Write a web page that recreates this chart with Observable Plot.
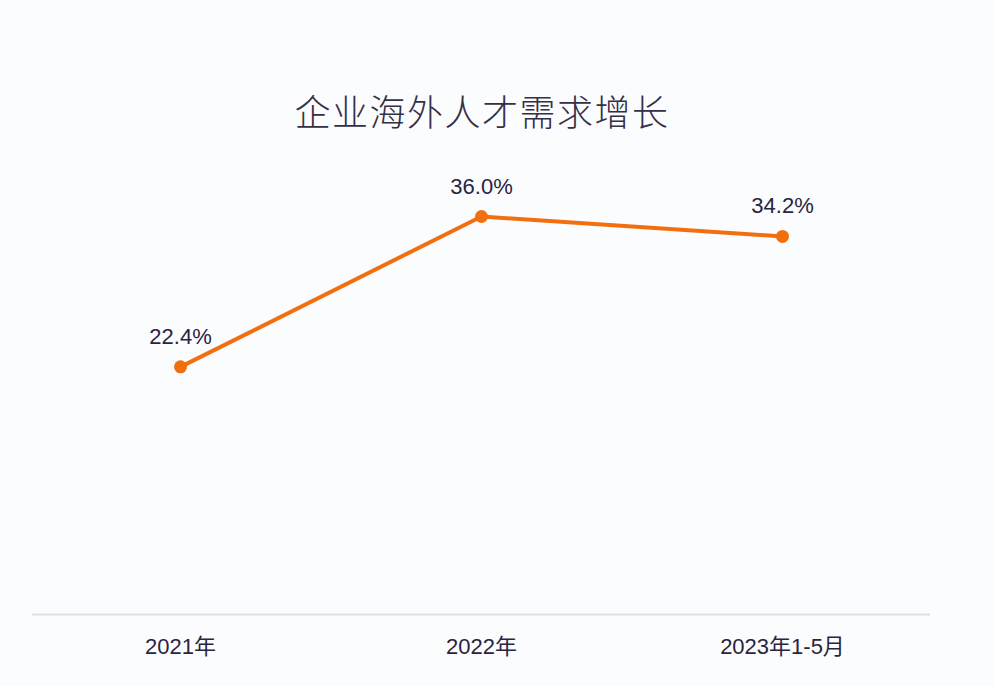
<!DOCTYPE html>
<html>
<head>
<meta charset="utf-8">
<script src="https://cdn.jsdelivr.net/npm/d3@7"></script>
<script src="https://cdn.jsdelivr.net/npm/@observablehq/plot@0.6"></script>
<style>
  html, body { margin: 0; padding: 0; background: #fbfcfe; }
  #title { height: 150px; box-sizing: border-box; padding-top: 88px; padding-right: 30px; text-align: center;
    font-family: "Noto Sans CJK SC", "Liberation Sans", sans-serif; font-size: 36px; font-weight: 300; line-height: 44px;
    color: #352f45; letter-spacing: 1.5px; }
  #chart svg { display: block; }
</style>
</head>
<body>
<div id="title">企业海外人才需求增长</div>
<div id="chart"></div>
<script>
const categories = ["2021年", "2022年", "2023年1-5月"];
const values = [22.4, 36.0, 34.2];
const labels = ["22.4%", "36.0%", "34.2%"];

const data = categories.map((c, i) => ({cat: c, v: values[i], label: labels[i]}));
const orange = "#f26f0f";

const chart = Plot.plot({
  width: 994,
  height: 536,
  marginTop: 66,
  marginBottom: 72,
  marginLeft: 32,
  marginRight: 64,
  style: {background: "transparent", fontFamily: "'Liberation Sans', 'Noto Sans CJK SC', sans-serif"},
  x: {type: "point", domain: categories, padding: 0.49, label: null},
  y: {domain: [0, 36], axis: null},
  marks: [
    Plot.ruleY([0], {stroke: "#dfe0e6", strokeWidth: 2}),
    Plot.axisX({tickSize: 0, tickPadding: 24, fontSize: 22, fill: "#2a2440", label: null}),
    Plot.line(data, {x: "cat", y: "v", stroke: orange, strokeWidth: 4}),
    Plot.dot(data, {x: "cat", y: "v", r: 6.5, fill: orange, stroke: null}),
    Plot.text(data, {x: "cat", y: "v", text: "label", dy: -30, fontSize: 22, fill: "#2a2440"})
  ]
});
document.getElementById("chart").appendChild(chart);
</script>
</body>
</html>
